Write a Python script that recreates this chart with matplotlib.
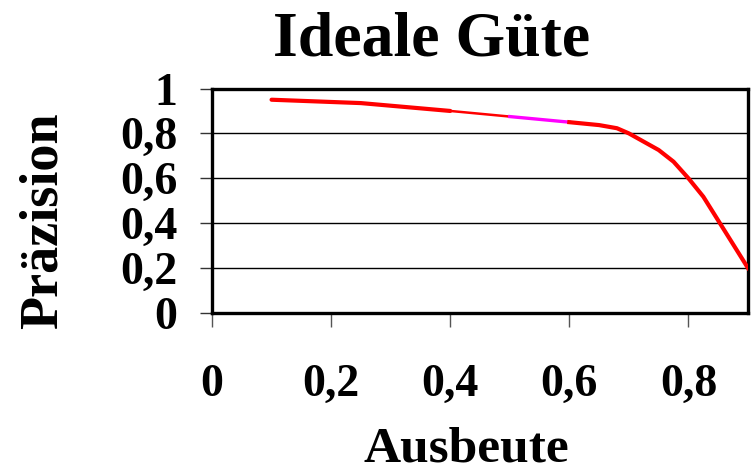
import matplotlib
matplotlib.use("Agg")
import matplotlib.pyplot as plt

# Precision / recall curve values
recall = [0.1, 0.25, 0.4, 0.5, 0.6, 0.65, 0.68, 0.7, 0.75, 0.775, 0.8, 0.825, 0.9]
precision = [0.95, 0.935, 0.9, 0.875, 0.85, 0.837, 0.823, 0.8, 0.726, 0.674, 0.6, 0.518, 0.2]

x_ticks = [0, 0.2, 0.4, 0.6, 0.8]
x_tick_labels = ["0", "0,2", "0,4", "0,6", "0,8"]
y_ticks = [0, 0.2, 0.4, 0.6, 0.8, 1.0]
y_tick_labels = ["0", "0,2", "0,4", "0,6", "0,8", "1"]

title_text = "Ideale Güte"
x_label = "Ausbeute"
y_label = "Präzision"

W, H = 753, 474
plt.rcParams["font.family"] = ["Liberation Serif", "DejaVu Serif"]
plt.rcParams["font.weight"] = "bold"

fig = plt.figure(figsize=(W / 100, H / 100), dpi=100)
ax = fig.add_axes([212 / W, 1 - 313 / H, (748 - 212) / W, (313 - 88.5) / H])

# curve pieces: thick red, thin red, magenta highlight, thick red
i04 = recall.index(0.4)
i05 = recall.index(0.5)
i06 = recall.index(0.6)
ax.plot(recall[:i04 + 1], precision[:i04 + 1], color="#ff0000", lw=3.0,
        solid_capstyle="round", zorder=3)
ax.plot(recall[i04:i05 + 1], precision[i04:i05 + 1], color="#ff0000", lw=1.8, zorder=3)
ax.plot(recall[i05:i06 + 1], precision[i05:i06 + 1], color="#ff00ff", lw=2.4, zorder=3)
ax.plot(recall[i06:], precision[i06:], color="#ff0000", lw=3.0, zorder=3)

ax.set_xlim(0, 0.9)
ax.set_ylim(0, 1.0)
ax.set_xticks(x_ticks)
ax.set_xticklabels(x_tick_labels)
ax.set_yticks(y_ticks)
ax.set_yticklabels(y_tick_labels)

ax.yaxis.grid(True, color="black", lw=1.0)
ax.set_axisbelow(True)
for s in ax.spines.values():
    s.set_linewidth(2.4)
    s.set_color("black")

ax.tick_params(axis="x", direction="out", length=10, width=1.0, color="#555555",
               pad=27, labelsize=33)
ax.tick_params(axis="y", direction="out", length=9, width=1.0, color="#333333",
               pad=16, labelsize=33)
for lab in ax.get_xticklabels() + ax.get_yticklabels():
    lab.set_fontweight("bold")

to_fig = lambda px, py: (px / W, 1 - py / H)

fig.text(*to_fig(432, 55), title_text, ha="center", va="baseline",
         fontsize=46, fontweight="bold")
fig.text(*to_fig(466, 462), x_label, ha="center", va="baseline",
         fontsize=37, fontweight="bold")
fig.text(*to_fig(44, 221), y_label, ha="center", va="center", rotation=90,
         fontsize=39, fontweight="bold")

fig.savefig("out.png", dpi=100, facecolor="white")
